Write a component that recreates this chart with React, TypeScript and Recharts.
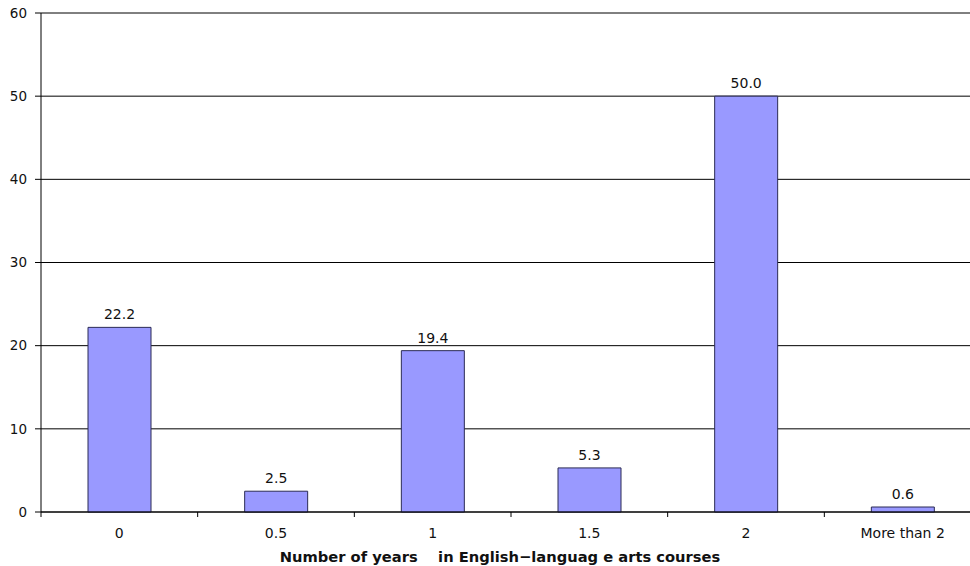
import React from "react";
import { BarChart, Bar, XAxis, YAxis, CartesianGrid, LabelList, Label } from "recharts";

const categories = ["0", "0.5", "1", "1.5", "2", "More than 2"];
const percents = [22.2, 2.5, 19.4, 5.3, 50.0, 0.6];
const yTicks = [0, 10, 20, 30, 40, 50, 60];
const xTitle = "Number of years\u00a0\u00a0\u00a0 in English\u2212languag\u00a0e arts courses";

const data = categories.map((c, i) => ({ cat: c, value: percents[i] }));

const FONT = "'DejaVu Sans', Verdana, sans-serif";

const XTick = (props: any) => {
  const { x, y, payload } = props;
  const half = payload && payload.offset ? payload.offset : 78.3;
  return (
    <g>
      <line x1={x - half} x2={x - half} y1={y} y2={y + 5} stroke="#000" strokeWidth={1} />
      <text x={x} y={y + 26} textAnchor="middle" fontSize={14} fontFamily={FONT} fill="#111">
        {payload.value}
      </text>
    </g>
  );
};

export default function App() {
  return (
    <div style={{ position: "absolute", left: 0, top: 0, width: 970, height: 566, overflow: "hidden", background: "#fff" }}>
      <BarChart
        width={981}
        height={566}
        data={data}
        margin={{ top: 13, right: 0, bottom: 0, left: 0 }}
        barCategoryGap="30%"
      >
        <CartesianGrid vertical={false} stroke="#000" strokeWidth={1} />
        <XAxis
          dataKey="cat"
          height={54}
          tickLine={false}
          tickSize={0}
          tickMargin={0}
          axisLine={{ stroke: "#000" }}
          tick={<XTick />}
          interval={0}
        >
          <Label
            value={xTitle}
            position="insideBottom"
            offset={4}
            dx={-11}
            style={{ fontFamily: FONT, fontSize: 14.7, fontWeight: "bold", fill: "#111" }}
          />
        </XAxis>
        <YAxis
          width={41}
          domain={[0, 60]}
          ticks={yTicks}
          tickSize={6}
          tickMargin={8}
          axisLine={{ stroke: "#000" }}
          tickLine={{ stroke: "#000" }}
          tick={{ fontFamily: FONT, fontSize: 13.5, fill: "#111" }}
        />
        <Bar dataKey="value" fill="#9999ff" stroke="#2b2b55" strokeWidth={1} isAnimationActive={false}>
          <LabelList
            dataKey="value"
            position="top"
            offset={8}
            formatter={(v: any) => Number(v).toFixed(1)}
            style={{ fontFamily: FONT, fontSize: 14, fill: "#111" }}
          />
        </Bar>
      </BarChart>
    </div>
  );
}
